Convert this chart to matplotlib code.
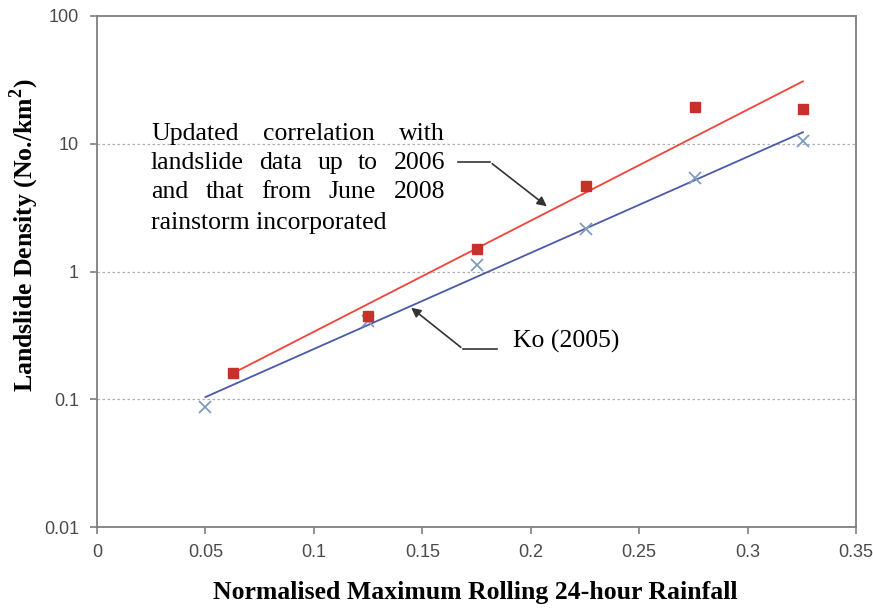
import matplotlib
matplotlib.use("Agg")
import matplotlib.pyplot as plt
import numpy as np

# Observed landslide densities (No./km^2) against normalised rainfall
x_updated = [0.0627, 0.125, 0.175, 0.2255, 0.2757, 0.3255]
y_updated = [0.16, 0.447, 1.49, 4.65, 19.3, 18.6]

x_ko = [0.05, 0.125, 0.175, 0.2255, 0.2757, 0.3255]
y_ko = [0.0866, 0.41, 1.12, 2.15, 5.4, 10.5]

# Fitted correlation lines (end points)
fit_updated_x = [0.0627, 0.3255]
fit_updated_y = [0.16, 30.8]
fit_ko_x = [0.05, 0.3255]
fit_ko_y = [0.104, 12.3]

x_ticks = [0, 0.05, 0.1, 0.15, 0.2, 0.25, 0.3, 0.35]
x_tick_labels = ["0", "0.05", "0.1", "0.15", "0.2", "0.25", "0.3", "0.35"]
y_ticks = [0.01, 0.1, 1, 10, 100]
y_tick_labels = ["0.01", "0.1", "1", "10", "100"]

W, H = 873, 608
fig = plt.figure(figsize=(W / 100, H / 100), dpi=100)
ax = fig.add_axes([97 / W, 1 - 527 / H, (856 - 97) / W, (527 - 16) / H])

ax.set_yscale("log")
ax.set_xlim(0, 0.35)
ax.set_ylim(0.01, 100)

frame_col = "#7f7f7f"
for s in ax.spines.values():
    s.set_color(frame_col)
    s.set_linewidth(1.3)

ax.set_xticks(x_ticks)
ax.set_xticklabels(x_tick_labels)
ax.set_yticks(y_ticks)
ax.set_yticklabels(y_tick_labels)
ax.yaxis.set_minor_locator(matplotlib.ticker.NullLocator())
ax.tick_params(axis="both", direction="out", length=5, width=1.2, color=frame_col,
               labelsize=13, labelcolor="#4a4a4a")
for lab in ax.get_xticklabels() + ax.get_yticklabels():
    lab.set_fontfamily("Liberation Sans")
ax.tick_params(axis="x", pad=7)
ax.tick_params(axis="y", pad=8)

# Dotted horizontal gridlines at each decade
for yv in [0.1, 1, 10]:
    ax.axhline(yv, color="#b0b0b0", linestyle=(0, (2, 2)), linewidth=0.9, zorder=0)

ax.plot(fit_updated_x, fit_updated_y, color="#f0433a", linewidth=1.3, zorder=2)
ax.plot(fit_ko_x, fit_ko_y, color="#4a5aa8", linewidth=1.3, zorder=2)
ax.plot(x_ko, y_ko, linestyle="none", marker="x", markersize=9, markeredgewidth=1.3,
        color="#7f9cc0", zorder=3)
ax.plot(x_updated, y_updated, linestyle="none", marker="s", markersize=6.5,
        color="#c8302c", zorder=4)

serif = "Liberation Serif"
fig.text(475 / W, 1 - 592 / H,
         "Normalised Maximum Rolling 24-hour Rainfall",
         ha="center", va="center", fontsize=18.5, fontweight="bold", family=serif)
fig.text(24 / W, 1 - 235 / H, "Landslide Density (No./km$^\\mathregular{2}$)",
         ha="center", va="center", rotation=90, fontsize=18.5, fontweight="bold", family=serif)

# Justified annotation block
renderer = fig.canvas.get_renderer()
block_left, block_right = 151, 445
lines = [
    ("Updated correlation with", True, 134),
    ("landslide data up to 2006", True, 163),
    ("and that from June 2008", True, 192),
    ("rainstorm incorporated", False, 223),
]
fs = 18.5
for text, justify, ypx in lines:
    words = text.split()
    yfig = 1 - ypx / H
    if not justify:
        fig.text(block_left / W, yfig, text, ha="left", va="center", fontsize=fs, family=serif)
        continue
    arts = [fig.text(0, yfig, w, ha="left", va="center", fontsize=fs, family=serif) for w in words]
    widths = [a.get_window_extent(renderer).width for a in arts]
    gap = (block_right - block_left - sum(widths)) / (len(words) - 1)
    xpos = block_left
    for a, wd in zip(arts, widths):
        a.set_x(xpos / W)
        xpos += wd + gap

fig.text(513 / W, 1 - 341 / H, "Ko (2005)", ha="left", va="center", fontsize=fs, family=serif)

# Leader lines with arrows
arrow_col = "#333333"
def px(xp, yp):
    return (xp / W, 1 - yp / H)

fig.add_artist(matplotlib.lines.Line2D([458 / W, 490 / W], [1 - 162 / H, 1 - 162 / H],
                                       color=arrow_col, linewidth=1.2))
fig.add_artist(matplotlib.patches.FancyArrowPatch(px(490, 162), px(549, 208),
                                                  transform=fig.transFigure,
                                                  arrowstyle="-|>", mutation_scale=14,
                                                  color=arrow_col, linewidth=1.2))
fig.add_artist(matplotlib.lines.Line2D([497 / W, 463 / W], [1 - 349 / H, 1 - 349 / H],
                                       color=arrow_col, linewidth=1.2))
fig.add_artist(matplotlib.patches.FancyArrowPatch(px(463, 349), px(409, 306),
                                                  transform=fig.transFigure,
                                                  arrowstyle="-|>", mutation_scale=14,
                                                  color=arrow_col, linewidth=1.2))

fig.savefig("out.png", dpi=100)
